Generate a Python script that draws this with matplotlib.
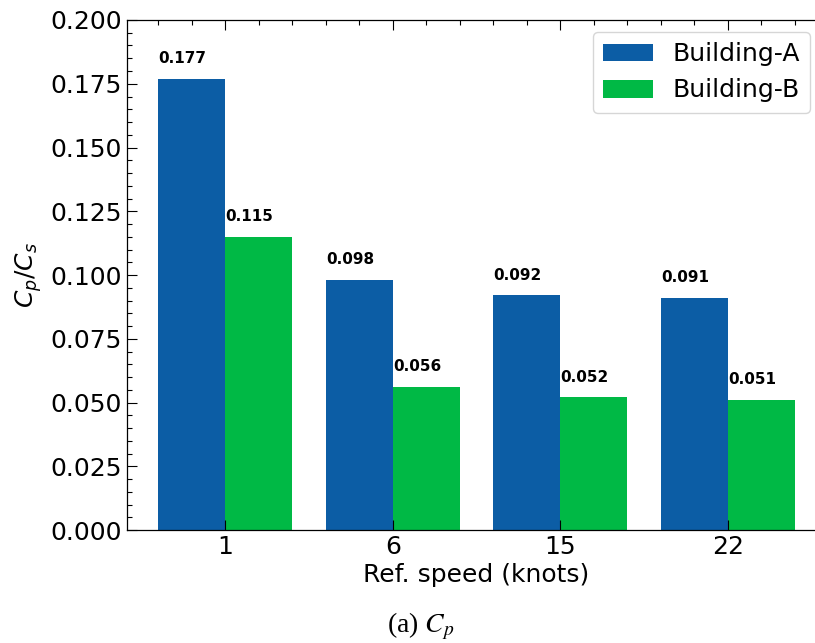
import matplotlib
matplotlib.use('Agg')
import matplotlib.pyplot as plt
import numpy as np
from matplotlib.ticker import MultipleLocator, FormatStrFormatter

speeds = ['1', '6', '15', '22']
building_a = [0.177, 0.098, 0.092, 0.091]
building_b = [0.115, 0.056, 0.052, 0.051]

blue = '#0C5DA5'
green = '#00B945'

plt.rcParams['font.family'] = ['DejaVu Sans']
plt.rcParams['mathtext.fontset'] = 'dejavusans'

fig = plt.figure(figsize=(8.15, 6.43), dpi=100)
# axes runs a bit past the right edge (the original was cropped)
ax = fig.add_axes([0.1558, 0.1757, 0.858, 0.7932])

x = np.arange(len(speeds))
w = 0.4
ax.bar(x - w/2, building_a, w, color=blue, label='Building-A')
ax.bar(x + w/2, building_b, w, color=green, label='Building-B')

for xi, v in zip(x - w, building_a):
    ax.text(xi, v + 0.005, '%.3f' % v, ha='left', va='bottom', fontsize=11, fontweight='bold')
for xi, v in zip(x, building_b):
    ax.text(xi, v + 0.005, '%.3f' % v, ha='left', va='bottom', fontsize=11, fontweight='bold')

ax.set_xlim(-0.587, 3.587)
ax.set_ylim(0, 0.2)
ax.set_xticks(x)
ax.set_xticklabels(speeds)
ax.xaxis.set_minor_locator(MultipleLocator(0.2))
ax.yaxis.set_major_locator(MultipleLocator(0.025))
ax.yaxis.set_minor_locator(MultipleLocator(0.005))
ax.yaxis.set_major_formatter(FormatStrFormatter('%.3f'))
ax.tick_params(which='both', direction='in', top=True, right=True, labelsize=18, width=0.8)
ax.tick_params(which='major', length=7)
ax.tick_params(which='minor', length=3.5)
ax.tick_params(axis='x', which='minor', bottom=False)
for s in ax.spines.values():
    s.set_linewidth(0.9)

ax.set_xlabel('Ref. speed (knots)', fontsize=18, labelpad=3)
ax.set_ylabel(r'$C_p/C_s$', fontsize=18)
ax.yaxis.set_label_coords(-0.118, 0.5)

fig.legend(loc='upper right', bbox_to_anchor=(810/815, 1 - 32/643),
           bbox_transform=fig.transFigure, fontsize=18, handlelength=2.0,
           handletextpad=0.8, borderaxespad=0, frameon=True)

fig.text(0.516, 1 - 626/643, r'(a) $C_p$', ha='center', va='center',
         fontsize=20, family='Liberation Serif', math_fontfamily='stix')

fig.savefig('out.png', dpi=100)
